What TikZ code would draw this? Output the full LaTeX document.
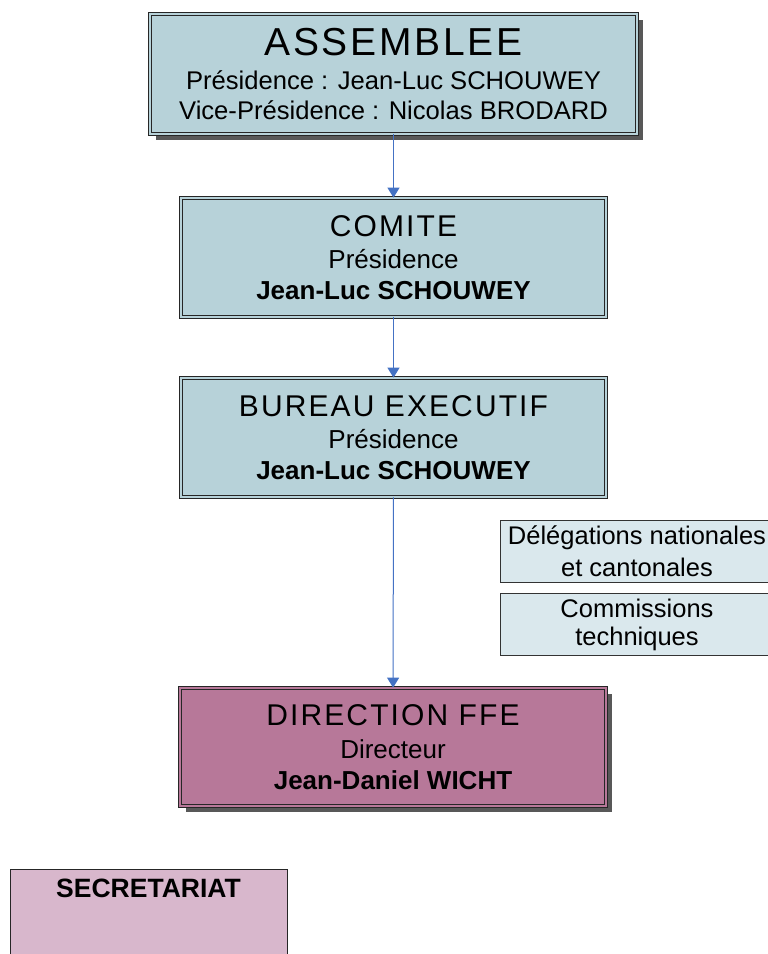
\documentclass[tikz,border=0pt]{standalone}
\usepackage{fontspec}
\setmainfont{Liberation Sans}
\newfontfamily\headfont[LetterSpace=7]{Liberation Sans}
\usetikzlibrary{shadows,arrows.meta}
\definecolor{ffeblue}{RGB}{183,210,217}
\definecolor{ffepale}{RGB}{218,232,237}
\definecolor{ffemauve}{RGB}{183,120,153}
\definecolor{ffepink}{RGB}{216,183,204}
\definecolor{ffearrow}{RGB}{68,114,196}
\definecolor{ffeshadow}{RGB}{88,88,88}
\tikzset{
  orgbox/.style={draw=black!85,line width=0.7pt,double distance=2.2pt,align=center,inner sep=0pt,
    font=\fontsize{26}{30}\selectfont},
  bluebox/.style={orgbox,fill=ffeblue,double=ffeblue,minimum width=425pt,minimum height=119pt},
  shadowed/.style={drop shadow={shadow xshift=6pt,shadow yshift=-6pt,fill=ffeshadow,opacity=1}},
  sidebox/.style={draw=black!80,line width=0.8pt,fill=ffepale,align=center,inner sep=0pt,
    minimum width=274pt,minimum height=62pt},
  flow/.style={draw=ffearrow,line width=1pt,-{Triangle[width=12pt,length=10pt]}},
}
\newcommand{\headline}[2]{{\fontsize{#1}{#1}\headfont #2}}

\begin{document}
\begin{tikzpicture}[x=1pt,y=-1pt]
\useasboundingbox (0,0) rectangle (768,954);
\node[bluebox,shadowed,minimum width=487pt,minimum height=120pt,font=\fontsize{25.6}{30}\selectfont] (assemblee) at (393.5,74)
  {\headline{39}{ASSEMBLEE}\\[4pt]Présidence : Jean-Luc SCHOUWEY\\Vice-Présidence : Nicolas BRODARD};
\node[bluebox] (comite) at (393.5,257.5)
  {\headline{30}{COMITE}\\[2pt]Présidence\\[1pt]\textbf{Jean-Luc SCHOUWEY}};
\node[bluebox] (bureau) at (393.5,437.5)
  {\headline{30}{BUREAU EXECUTIF}\\[2pt]Présidence\\[1pt]\textbf{Jean-Luc SCHOUWEY}};
\node[orgbox,shadowed,fill=ffemauve,double=ffemauve,minimum width=426pt,minimum height=118pt] (direction) at (393,747)
  {\headline{30}{DIRECTION FFE}\\[3pt]Directeur\\[1pt]\textbf{Jean-Daniel WICHT}};
\node[sidebox,font=\fontsize{25.5}{32}\selectfont] (delegations) at (637,551) {Délégations nationales\\et cantonales};
\node[sidebox,font=\fontsize{25.5}{28}\selectfont] (commissions) at (637,624.5) {Commissions\\techniques};
\node[draw=black!85,line width=0.8pt,fill=ffepink,anchor=north,minimum width=277pt,inner ysep=10pt,
  text height=18pt,text depth=110pt,font=\fontsize{26.5}{30}\selectfont\bfseries] (secretariat) at (148.5,869) {SECRETARIAT};
\draw[flow] (assemblee) -- (comite);
\draw[flow] (comite) -- (bureau);
\draw[flow] (bureau) -- (direction);
\end{tikzpicture}
\end{document}
